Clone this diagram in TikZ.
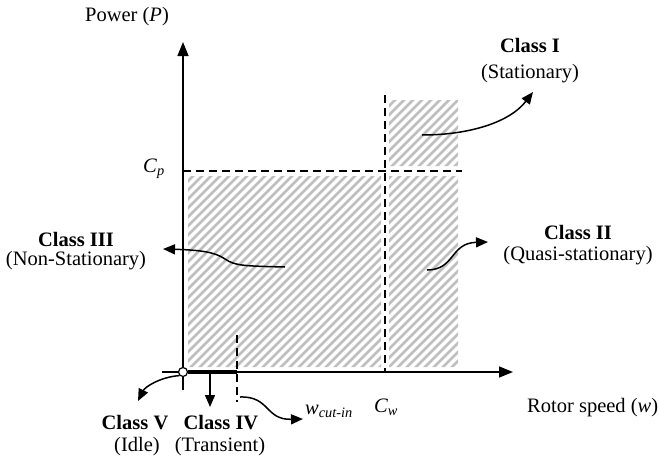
\documentclass[tikz,border=0pt]{standalone}
\usepackage{fontspec}
\setmainfont{Liberation Serif}
\usetikzlibrary{arrows.meta}
\definecolor{hatchgray}{HTML}{BFBFBF}
\begin{document}
\begin{tikzpicture}[x=1pt,y=-1pt,
  lbl/.style={font=\fontsize{20.5}{22}\selectfont, inner sep=0pt, align=center},
  hatch/.style={line width=2.8pt, draw=hatchgray},
  dsh/.style={line width=1.5pt, dash pattern=on 8pt off 5pt},
  axisline/.style={line width=1.5pt, -{Triangle[length=14pt,width=11pt]}},
  arr/.style={line width=1.5pt, -{Triangle[length=12pt,width=10pt]}}]
\useasboundingbox (0,0) rectangle (659,458);
% hatched regions
\begin{scope}
  \clip (188,176) rectangle (381,367) (389,176) rectangle (458,367) (389,100) rectangle (458,166);
  \foreach \i in {-130,-121,...,460} \draw[hatch] (\i,400) -- ++(320,-320);
\end{scope}
% axes
\coordinate (ybot) at (183,390);
\coordinate (ytop) at (183,42);
\coordinate (xleft) at (162,372);
\coordinate (xright) at (513,372);
\draw[axisline] (ybot) -- (ytop);
\draw[axisline] (xleft) -- (xright);
% dashed lines
\coordinate (cpa) at (183,171); \coordinate (cpb) at (462,171);
\coordinate (cwa) at (385,95);  \coordinate (cwb) at (385,372);
\coordinate (cia) at (237,335); \coordinate (cib) at (237,402);
\draw[dsh] (cpa) -- (cpb);
\draw[dsh] (cwa) -- (cwb);
\draw[dsh] (cia) -- (cib);
% thick transient segment
\coordinate (ciaxis) at (237,372);
\node[circle, draw, fill=white, line width=1.2pt, minimum size=9pt, inner sep=0pt] (o) at (183,372) {};
\draw[line width=4pt] (o.east) -- (ciaxis);
% labels
\node[lbl] (power) at (127,17) {Power (\textit{P})};
\node[lbl] (cp) at (154,169) {\textit{C}\textsubscript{\textit{p}}};
\node[lbl] (cw) at (386,407) {\textit{C}\textsubscript{\textit{w}}};
\node[lbl, anchor=west] (rotor) at (527,408) {Rotor speed (\textit{w})};
\node[lbl] (c1) at (530,45) {\textbf{Class I}};
\node[lbl] (c1s) at (530,74) {(Stationary)};
\node[lbl] (c2) at (578,232) {\textbf{Class II}};
\node[lbl] (c2s) at (578,256) {(Quasi-stationary)};
\node[lbl] (c3) at (76,239) {\textbf{Class III}};
\node[lbl] (c3s) at (76,261) {(Non-Stationary)};
\node[lbl] (c5) at (135,423) {\textbf{Class V}};
\node[lbl] (c5s) at (137,447) {(Idle)};
\node[lbl] (c4) at (221,423) {\textbf{Class IV}};
\node[lbl] (c4s) at (220,447) {(Transient)};
\node[lbl, anchor=west] (wci) at (305,411) {\textit{w}\textsubscript{\textit{cut-in}}};
% arrows
\coordinate (s1) at (422,135); \coordinate (t1) at (533,92);
\draw[arr] (s1) .. controls (470,135) and (510,122) .. (t1);
\coordinate (s2) at (427,270); \coordinate (t2) at (488,242);
\draw[arr] (s2) .. controls (455,270) and (450,243) .. (t2);
\coordinate (s3) at (285,267); \coordinate (t3) at (163,249);
\draw[arr] (s3) .. controls (245,266) and (235,266) .. (225,259) .. controls (215,252) and (200,250) .. (t3);
\coordinate (t5) at (138,401);
\draw[arr] (o.south west) .. controls (160,377) and (145,387) .. (t5);
\coordinate (s4) at (210,374); \coordinate (t4) at (210,407);
\draw[arr] (s4) -- (t4);
\coordinate (s6) at (240,397); \coordinate (t6) at (303,419);
\draw[arr] (s6) .. controls (270,396) and (265,420) .. (t6);
\end{tikzpicture}
\end{document}
